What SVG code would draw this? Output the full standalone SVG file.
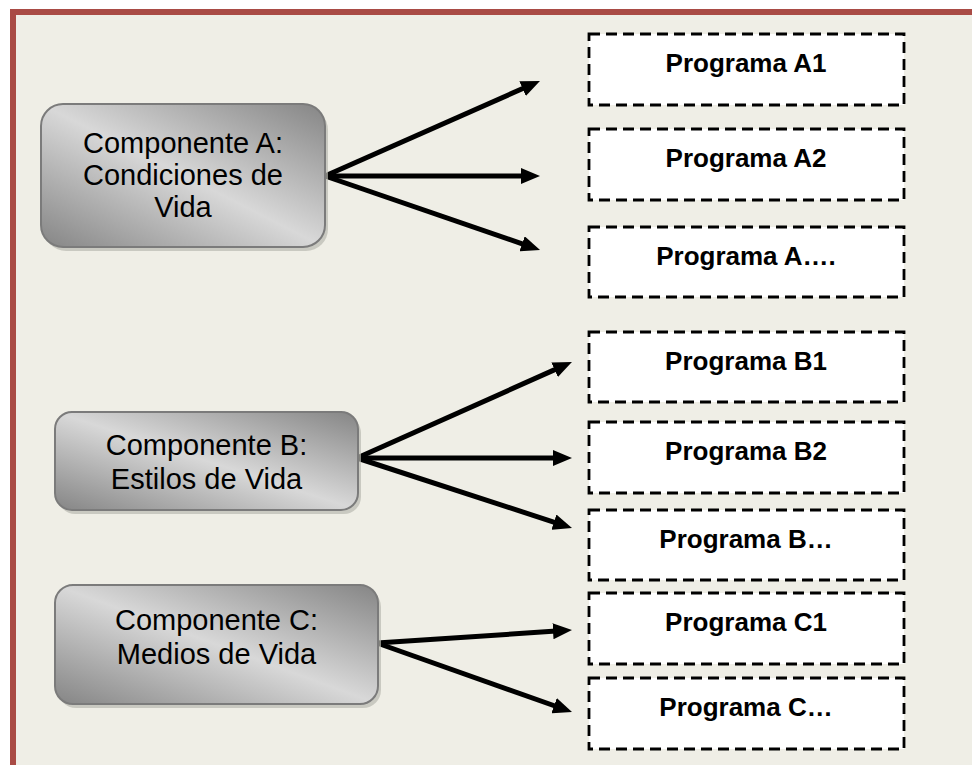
<svg xmlns="http://www.w3.org/2000/svg" width="972" height="765" viewBox="0 0 972 765">
<style>
.comp{fill:url(#silver);stroke:#7b7b7b;stroke-width:2}
.shadow{fill:#b9b9b0;opacity:0.7}
.ctext{font-family:"Liberation Sans",Arial,sans-serif;font-size:29px;fill:#000;text-anchor:middle}
.prog{fill:#fff;stroke:#000;stroke-width:2.8;stroke-dasharray:11 6}
.ptext{font-family:"Liberation Sans",Arial,sans-serif;font-size:26px;font-weight:bold;fill:#000;text-anchor:middle}
.arrow{stroke:#000;stroke-width:5;fill:none;marker-end:url(#head)}
</style>
<defs>
<linearGradient id="silver" x1="1" y1="0" x2="0" y2="1">
<stop offset="0" stop-color="#858585"/>
<stop offset="0.5" stop-color="#d8d8d8"/>
<stop offset="1" stop-color="#858585"/>
</linearGradient>
<marker id="head" markerUnits="userSpaceOnUse" markerWidth="20" markerHeight="16" refX="7" refY="8" orient="auto">
<path d="M0,0 L19,8 L0,16 z" fill="#000"/>
</marker>
</defs>
<rect x="0" y="0" width="972" height="765" fill="#fff"/>
<rect x="13" y="12" width="1000" height="800" fill="#efeee6" stroke="#a94b45" stroke-width="6"/>

<g id="connectors">
<line class="arrow" x1="325" y1="176" x2="529" y2="85.8"/>
<line class="arrow" x1="325" y1="176" x2="528" y2="176"/>
<line class="arrow" x1="325" y1="176" x2="528.7" y2="246.1"/>
<line class="arrow" x1="357" y1="458" x2="561" y2="366.9"/>
<line class="arrow" x1="357" y1="458" x2="560" y2="458"/>
<line class="arrow" x1="357" y1="458" x2="560.6" y2="524.3"/>
<line class="arrow" x1="377" y1="643" x2="560" y2="630.8"/>
<line class="arrow" x1="377" y1="643" x2="560.7" y2="708"/>
</g>

<g id="compA">
<rect class="shadow" x="44" y="108" width="284" height="143" rx="22"/>
<rect class="comp" x="41" y="104" width="284" height="143" rx="22"/>
<text class="ctext" x="183" y="153">Componente A:</text>
<text class="ctext" x="183" y="185">Condiciones de</text>
<text class="ctext" x="183" y="217">Vida</text>
</g>
<g id="compB">
<rect class="shadow" x="58" y="416" width="303" height="98" rx="17"/>
<rect class="comp" x="55" y="412" width="303" height="98" rx="17"/>
<text class="ctext" x="206.5" y="455">Componente B:</text>
<text class="ctext" x="206.5" y="489">Estilos de Vida</text>
</g>
<g id="compC">
<rect class="shadow" x="58" y="589" width="323" height="119" rx="18"/>
<rect class="comp" x="55" y="585" width="323" height="119" rx="18"/>
<text class="ctext" x="216.5" y="630">Componente C:</text>
<text class="ctext" x="216.5" y="664">Medios de Vida</text>
</g>

<g id="progA1"><rect class="prog" x="589" y="34" width="315" height="71"/><text class="ptext" x="746" y="71.5">Programa A1</text></g>
<g id="progA2"><rect class="prog" x="589" y="129" width="315" height="71"/><text class="ptext" x="746" y="166.5">Programa A2</text></g>
<g id="progA3"><rect class="prog" x="589" y="227" width="315" height="70"/><text class="ptext" x="746" y="264.5">Programa A….</text></g>
<g id="progB1"><rect class="prog" x="589" y="332" width="315" height="70"/><text class="ptext" x="746" y="369.5">Programa B1</text></g>
<g id="progB2"><rect class="prog" x="589" y="422" width="315" height="71"/><text class="ptext" x="746" y="459.5">Programa B2</text></g>
<g id="progB3"><rect class="prog" x="589" y="510" width="315" height="70"/><text class="ptext" x="746" y="547.5">Programa B…</text></g>
<g id="progC1"><rect class="prog" x="589" y="593" width="315" height="71"/><text class="ptext" x="746" y="630.5">Programa C1</text></g>
<g id="progC2"><rect class="prog" x="589" y="678" width="315" height="71"/><text class="ptext" x="746" y="715.5">Programa C…</text></g>
</svg>
